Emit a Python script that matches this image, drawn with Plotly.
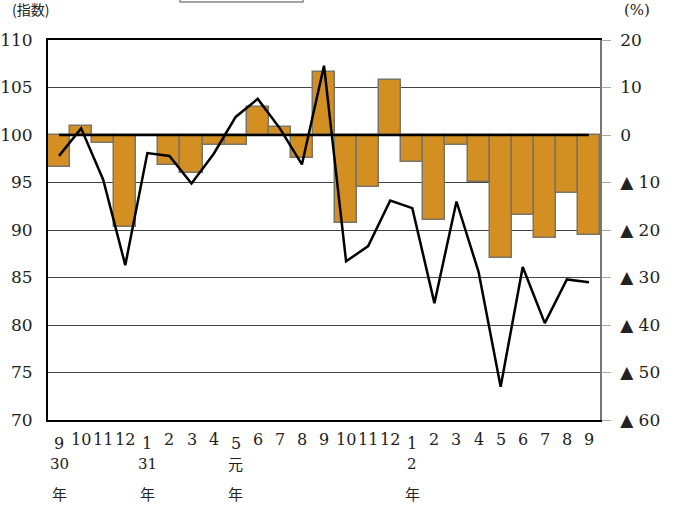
import plotly.graph_objects as go

# ---- data ----
months = ["9", "10", "11", "12", "1", "2", "3", "4", "5", "6", "7", "8", "9",
          "10", "11", "12", "1", "2", "3", "4", "5", "6", "7", "8", "9"]
year_pos = [0, 4, 8, 16]
year_nums = ["30", "31", "元", "2"]
year_unit = "年"
# 前年同月比 (%) - bars, right axis
change_pct = [-6.7, 1.9, -1.6, -19.3, 0.0, -6.3, -7.9, -2.1, -2.1, 6.0, 1.6, -4.9, 13.3,
              -18.6, -10.9, 11.6, -5.6, -17.9, -2.1, -9.8, -25.8, -16.8, -21.6, -12.3, -21.0]
# 指数 - line, left axis
index_vals = [97.8, 100.7, 95.3, 86.3, 98.1, 97.8, 94.9, 98.0, 101.9, 103.8, 100.7, 96.9, 107.3,
              86.7, 88.3, 93.1, 92.3, 82.3, 93.0, 85.6, 73.5, 86.1, 80.2, 84.8, 84.5]
left_ticks = [70, 75, 80, 85, 90, 95, 100, 105, 110]
right_ticks = [-60, -50, -40, -30, -20, -10, 0, 10, 20]

x = list(range(len(months)))
right_text = [("▲ " + str(-v)) if v < 0 else str(v) for v in right_ticks]

SERIF = "DejaVu Serif"
CJK = "Noto Sans CJK JP"

fig = go.Figure()
fig.add_trace(go.Bar(
    x=x, y=change_pct, yaxis="y",
    marker=dict(color="#D38F22", line=dict(color="#7a7462", width=1.5)),
    hoverinfo="skip", showlegend=False,
))
fig.add_trace(go.Scatter(
    x=[x[0], x[-1]], y=[0, 0], yaxis="y", mode="lines",
    line=dict(color="black", width=2.5), hoverinfo="skip", showlegend=False,
))
fig.add_trace(go.Scatter(
    x=x, y=index_vals, yaxis="y2", mode="lines",
    line=dict(color="black", width=2.5), hoverinfo="skip", showlegend=False,
))

L, R, T, B = 48, 85, 40, 91
W, H = 685, 511
pw, ph = W - L - R, H - T - B

def px_to_paper_y(py):
    return (H - B - py) / ph

def px_to_paper_x(px):
    return (px - L) / pw

annotations = []
for i, m in enumerate(months):
    low = i in year_pos
    annotations.append(dict(
        x=i, xref="x", y=px_to_paper_y(443 if low else 439), yref="paper",
        text=m, showarrow=False, font=dict(family=SERIF, size=16, color="#222"),
        xanchor="center", yanchor="middle",
    ))
for p, n in zip(year_pos, year_nums):
    annotations.append(dict(
        x=p, xref="x", y=px_to_paper_y(464), yref="paper",
        text=n, showarrow=False,
        font=dict(family=CJK if n == "元" else SERIF, size=15, color="#222"),
        xanchor="center", yanchor="middle",
    ))
    annotations.append(dict(
        x=p, xref="x", y=px_to_paper_y(493), yref="paper",
        text=year_unit, showarrow=False, font=dict(family=CJK, size=15, color="#222"),
        xanchor="center", yanchor="middle",
    ))
annotations.append(dict(
    x=px_to_paper_x(30), xref="paper", y=px_to_paper_y(9), yref="paper",
    text="(指数)", showarrow=False, font=dict(family=CJK, size=14, color="#222"),
    xanchor="center", yanchor="middle",
))
annotations.append(dict(
    x=px_to_paper_x(637), xref="paper", y=px_to_paper_y(10), yref="paper",
    text="(%)", showarrow=False, font=dict(family=SERIF, size=15, color="#222"),
    xanchor="center", yanchor="middle",
))

fig.update_layout(
    width=W, height=H,
    margin=dict(l=L, r=R, t=T, b=B, pad=0, autoexpand=False),
    paper_bgcolor="white", plot_bgcolor="white",
    bargap=0,
    showlegend=False,
    xaxis=dict(
        range=[-0.5, len(months) - 0.5], showticklabels=False, showgrid=False,
        zeroline=False, showline=True, mirror=True, linecolor="black", linewidth=2,
        ticks="", automargin=False,
    ),
    yaxis=dict(
        side="right", range=[right_ticks[0], right_ticks[-1]],
        tickvals=right_ticks, ticktext=right_text,
        showgrid=True, gridcolor="#444", gridwidth=1, zeroline=False,
        showline=True, linecolor="#777", linewidth=1.5,
        ticks="outside", ticklen=9, tickcolor="#aaa", tickwidth=1,
        ticklabelstandoff=6, automargin=False,
        tickfont=dict(family=SERIF, size=17, color="#222"),
    ),
    yaxis2=dict(
        side="left", overlaying="y", range=[left_ticks[0], left_ticks[-1]],
        tickvals=left_ticks, showgrid=False, zeroline=False,
        showline=True, linecolor="black", linewidth=2, ticks="",
        ticklabelstandoff=10, automargin=False,
        tickfont=dict(family=SERIF, size=17, color="#222"),
    ),
    annotations=annotations,
    shapes=[dict(
        type="rect", xref="paper", yref="paper",
        x0=px_to_paper_x(180), x1=px_to_paper_x(303),
        y0=px_to_paper_y(2), y1=px_to_paper_y(-30),
        line=dict(color="#888", width=1.5), fillcolor="rgba(0,0,0,0)",
    )],
)

fig.write_html(
    "out.html",
    config={"displayModeBar": False},
    post_script="document.body.style.margin='0';document.body.style.padding='0';",
)
